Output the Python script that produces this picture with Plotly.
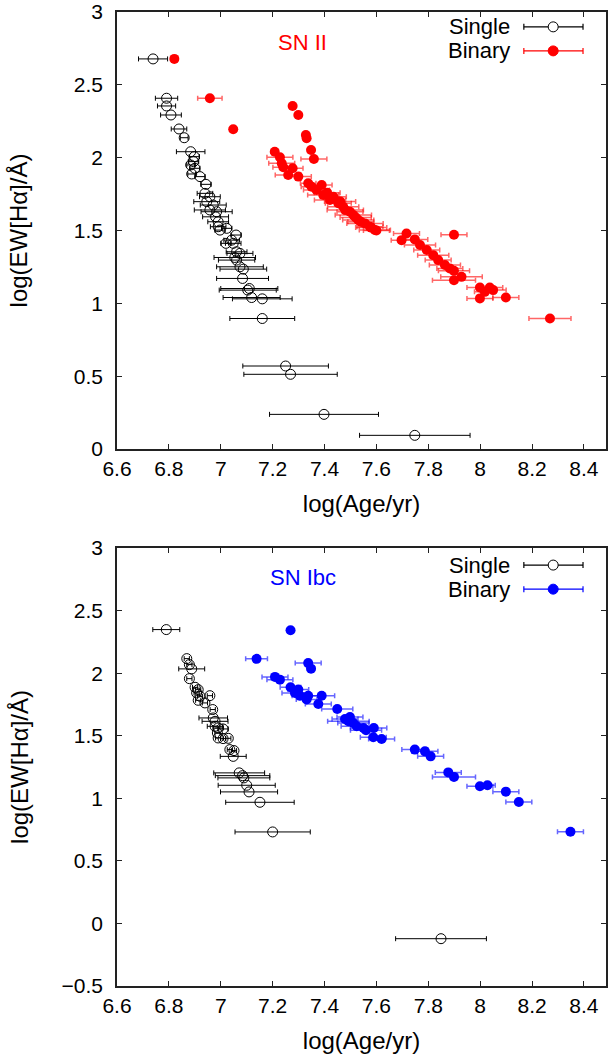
import plotly.graph_objects as go
from plotly.subplots import make_subplots

# ---------------- data: SN II panel ----------------
snii_single_age = [6.739, 6.791, 6.791, 6.808, 6.839, 6.859, 6.884, 6.898, 6.895, 6.884,
                   6.900, 6.888, 6.920, 6.943, 6.939, 6.958, 6.946, 6.971, 6.958, 6.984,
                   6.980, 6.990, 6.997, 6.990, 7.023, 7.059, 7.042, 7.020, 7.048, 7.061,
                   7.074, 7.054, 7.061, 7.074, 7.087, 7.084, 7.110, 7.104, 7.119, 7.160,
                   7.160, 7.250, 7.269, 7.398, 7.748]
snii_single_ew = [2.678, 2.408, 2.355, 2.293, 2.197, 2.137, 2.041, 2.007, 1.973, 1.950,
                  1.927, 1.888, 1.870, 1.817, 1.755, 1.732, 1.698, 1.675, 1.641, 1.629,
                  1.594, 1.560, 1.503, 1.526, 1.515, 1.469, 1.434, 1.412, 1.412, 1.354,
                  1.343, 1.315, 1.297, 1.251, 1.235, 1.171, 1.102, 1.091, 1.040, 1.031,
                  0.896, 0.570, 0.513, 0.238, 0.094]
snii_single_err = [0.056, 0.043, 0.035, 0.040, 0.030, 0.015, 0.055, 0.020, 0.020, 0.015,
                   0.020, 0.015, 0.020, 0.020, 0.030, 0.040, 0.050, 0.050, 0.060, 0.060,
                   0.050, 0.040, 0.020, 0.030, 0.020, 0.020, 0.030, 0.020, 0.030, 0.040,
                   0.050, 0.080, 0.070, 0.090, 0.090, 0.100, 0.110, 0.110, 0.110, 0.115,
                   0.125, 0.165, 0.180, 0.210, 0.213]

snii_binary_age = [6.821, 6.958, 7.048, 7.277, 7.299, 7.328, 7.331, 7.348, 7.359, 7.208,
                   7.228, 7.235, 7.241, 7.277, 7.260, 7.299, 7.337, 7.389, 7.350, 7.369,
                   7.395, 7.434, 7.421, 7.453, 7.472, 7.498, 7.511, 7.530, 7.556, 7.575,
                   7.594, 7.410, 7.460, 7.480, 7.520, 7.540, 7.580, 7.600,
                   7.716, 7.697, 7.748, 7.768, 7.794, 7.819, 7.838, 7.864, 7.883, 7.899,
                   7.899, 7.928, 7.899, 7.999, 8.037, 8.018, 8.050, 7.999, 8.099, 8.269]
snii_binary_ew = [2.678, 2.408, 2.195, 2.355, 2.293, 2.156, 2.133, 2.053, 1.991, 2.041,
                  2.003, 1.961, 1.934, 1.927, 1.881, 1.870, 1.824, 1.812, 1.801, 1.778,
                  1.744, 1.732, 1.709, 1.687, 1.663, 1.629, 1.606, 1.572, 1.549, 1.526,
                  1.503, 1.760, 1.700, 1.640, 1.590, 1.560, 1.520, 1.500,
                  1.480, 1.434, 1.439, 1.400, 1.366, 1.331, 1.297, 1.263, 1.240, 1.223,
                  1.471, 1.182, 1.159, 1.109, 1.109, 1.079, 1.091, 1.034, 1.040, 0.896]
snii_binary_err = [0.000, 0.047, 0.000, 0.000, 0.000, 0.000, 0.000, 0.000, 0.050, 0.000,
                   0.050, 0.050, 0.040, 0.040, 0.050, 0.050, 0.030, 0.040, 0.040, 0.050,
                   0.060, 0.050, 0.060, 0.050, 0.060, 0.050, 0.070, 0.060, 0.070, 0.050,
                   0.060, 0.050, 0.060, 0.070, 0.060, 0.050, 0.060, 0.050,
                   0.050, 0.040, 0.050, 0.060, 0.050, 0.060, 0.050, 0.060, 0.050, 0.060,
                   0.050, 0.080, 0.083, 0.050, 0.050, 0.040, 0.050, 0.050, 0.050, 0.081]

# ---------------- data: SN Ibc panel ----------------
snibc_single_age = [6.790, 6.869, 6.879, 6.888, 6.879, 6.901, 6.913, 6.907, 6.920, 6.958,
                    6.913, 6.939, 6.969, 6.971, 6.978, 6.978, 6.990, 7.009, 6.987, 6.990,
                    7.029, 7.009, 7.035, 7.051, 7.048, 7.071, 7.084, 7.089, 7.100, 7.109,
                    7.151, 7.200, 7.849]
snibc_single_ew = [2.348, 2.116, 2.068, 2.034, 1.956, 1.887, 1.868, 1.842, 1.815, 1.820,
                   1.783, 1.762, 1.709, 1.642, 1.615, 1.575, 1.562, 1.554, 1.522, 1.482,
                   1.479, 1.477, 1.389, 1.381, 1.335, 1.203, 1.181, 1.163, 1.104, 1.051,
                   0.968, 0.731, -0.122]
snibc_single_err = [0.052, 0.010, 0.010, 0.050, 0.010, 0.010, 0.010, 0.010, 0.010, 0.010,
                    0.010, 0.010, 0.010, 0.055, 0.050, 0.030, 0.020, 0.020, 0.010, 0.010,
                    0.010, 0.010, 0.010, 0.010, 0.050, 0.098, 0.105, 0.100, 0.110, 0.110,
                    0.132, 0.145, 0.175]

snibc_binary_age = [7.269, 7.138, 7.337, 7.348, 7.209, 7.228, 7.269, 7.299, 7.286, 7.337,
                    7.389, 7.305, 7.331, 7.376, 7.449, 7.479, 7.498, 7.492, 7.511, 7.524,
                    7.550, 7.560, 7.590, 7.588, 7.620, 7.748, 7.787, 7.809, 7.877, 7.899,
                    7.999, 8.028, 8.099, 8.149, 8.348]
snibc_binary_ew = [2.343, 2.114, 2.080, 2.036, 1.970, 1.948, 1.887, 1.869, 1.842, 1.820,
                   1.820, 1.820, 1.789, 1.754, 1.714, 1.634, 1.650, 1.615, 1.602, 1.575,
                   1.562, 1.543, 1.562, 1.487, 1.474, 1.389, 1.375, 1.335, 1.207, 1.171,
                   1.096, 1.104, 1.053, 0.971, 0.733]
snibc_binary_err = [0.000, 0.042, 0.050, 0.000, 0.050, 0.050, 0.040, 0.040, 0.050, 0.040,
                    0.050, 0.030, 0.040, 0.050, 0.060, 0.050, 0.050, 0.080, 0.060, 0.060,
                    0.050, 0.060, 0.050, 0.050, 0.050, 0.050, 0.050, 0.050, 0.050, 0.083,
                    0.050, 0.030, 0.050, 0.050, 0.050]

x_ticks = [6.6, 6.8, 7.0, 7.2, 7.4, 7.6, 7.8, 8.0, 8.2, 8.4]
panel_labels = ["SN II", "SN Ibc"]
panel_colors = ["#ff0000", "#0000ff"]
panel_err_colors = ["rgba(255,0,0,0.6)", "rgba(0,0,255,0.6)"]

FONT = "Liberation Sans, Arial, Helvetica, sans-serif"
TICK_SIZE = 21
TITLE_SIZE = 24
LEG_SIZE = 22

fig = make_subplots(rows=2, cols=1, vertical_spacing=0.1)

panels = [
    (snii_single_age, snii_single_ew, snii_single_err, snii_binary_age, snii_binary_ew, snii_binary_err),
    (snibc_single_age, snibc_single_ew, snibc_single_err, snibc_binary_age, snibc_binary_ew, snibc_binary_err),
]

for i, (sa, se, serr, ba, be, berr) in enumerate(panels):
    row = i + 1
    fig.add_trace(go.Scatter(
        x=sa, y=se, mode="markers",
        marker=dict(symbol="circle-open", size=10, color="black", line=dict(width=1, color="black")),
        error_x=dict(type="data", array=serr, symmetric=True, color="black", thickness=1, width=2.5),
        showlegend=False), row=row, col=1)
    fig.add_trace(go.Scatter(
        x=ba, y=be, mode="markers",
        marker=dict(symbol="circle", size=10, color=panel_colors[i], line=dict(width=0)),
        error_x=dict(type="data", array=berr, symmetric=True, color=panel_err_colors[i], thickness=1.5, width=2.5),
        showlegend=False), row=row, col=1)

axis_common = dict(
    showline=True, linecolor="#222", linewidth=1.5, mirror="ticks",
    ticks="inside", ticklen=5, tickwidth=1, tickcolor="#222",
    showgrid=False, zeroline=False, automargin=False,
    tickfont=dict(family=FONT, size=TICK_SIZE, color="black"),
)

fig.update_xaxes(range=[6.6, 8.485], tickvals=x_ticks, ticktext=[f"{v:g}" for v in x_ticks], **axis_common)
fig.update_xaxes(title=dict(text="log(Age/yr)", font=dict(family=FONT, size=TITLE_SIZE, color="black"), standoff=16))
fig.update_yaxes(dtick=0.5, ticklabelstandoff=8, **axis_common)
fig.update_yaxes(title=dict(text="log(EW[Hα]/Å)", font=dict(family=FONT, size=TITLE_SIZE, color="black")))

fig.update_layout(
    xaxis=dict(domain=[0, 1]), xaxis2=dict(domain=[0, 1]),
    yaxis=dict(domain=[0.5513, 1.0], range=[0, 3], title_standoff=39),
    yaxis2=dict(domain=[0.0, 0.4497], range=[-0.5, 3], title_standoff=26),
    width=613, height=1057,
    margin=dict(l=117, r=7, t=12, b=71),
    paper_bgcolor="white", plot_bgcolor="white",
    showlegend=False,
    font=dict(family=FONT, size=TICK_SIZE, color="black"),
)

# panel labels and legend (gnuplot style: text then sample)
annotations = []
shapes = []
legend_y = [(0.966, 0.911), (0.961, 0.906)]
for i in range(2):
    xr = "x domain" if i == 0 else "x2 domain"
    yr = "y domain" if i == 0 else "y2 domain"
    annotations.append(dict(text=panel_labels[i], xref=xr, yref=yr, x=0.38, y=0.931 if i == 0 else 0.932,
                            xanchor="center", yanchor="middle",
                            showarrow=False, font=dict(family=FONT, size=LEG_SIZE, color=panel_colors[i])))
    for j, (lab, col, ecol) in enumerate([("Single", "black", "black"), ("Binary", panel_colors[i], panel_colors[i])]):
        yy = legend_y[i][j]
        annotations.append(dict(text=lab, xref=xr, yref=yr, x=0.808, y=yy, xanchor="right", yanchor="middle",
                                showarrow=False, font=dict(family=FONT, size=LEG_SIZE, color="black")))
        shapes.append(dict(type="line", xref=xr, yref=yr, x0=0.832, x1=0.953, y0=yy, y1=yy,
                           line=dict(color=ecol, width=1.2)))
        for cx in (0.832, 0.953):
            shapes.append(dict(type="line", xref=xr, yref=yr, xsizemode="pixel", ysizemode="pixel",
                               xanchor=cx, yanchor=yy, x0=0, x1=0, y0=-3, y1=3,
                               line=dict(color=ecol, width=1.2)))
        if j == 0:
            shapes.append(dict(type="circle", xref=xr, yref=yr, xsizemode="pixel", ysizemode="pixel",
                               xanchor=0.892, yanchor=yy, x0=-5, x1=5, y0=-5, y1=5,
                               fillcolor="white", line=dict(color="black", width=1)))
        else:
            shapes.append(dict(type="circle", xref=xr, yref=yr, xsizemode="pixel", ysizemode="pixel",
                               xanchor=0.892, yanchor=yy, x0=-5, x1=5, y0=-5, y1=5,
                               fillcolor=col, line=dict(color=col, width=1)))

fig.update_layout(annotations=annotations, shapes=shapes)

# remove the default 8 px page margin so the figure fills the window exactly
fig.write_html("out.html", config={"displayModeBar": False},
               post_script="document.body.style.margin='0px';")
